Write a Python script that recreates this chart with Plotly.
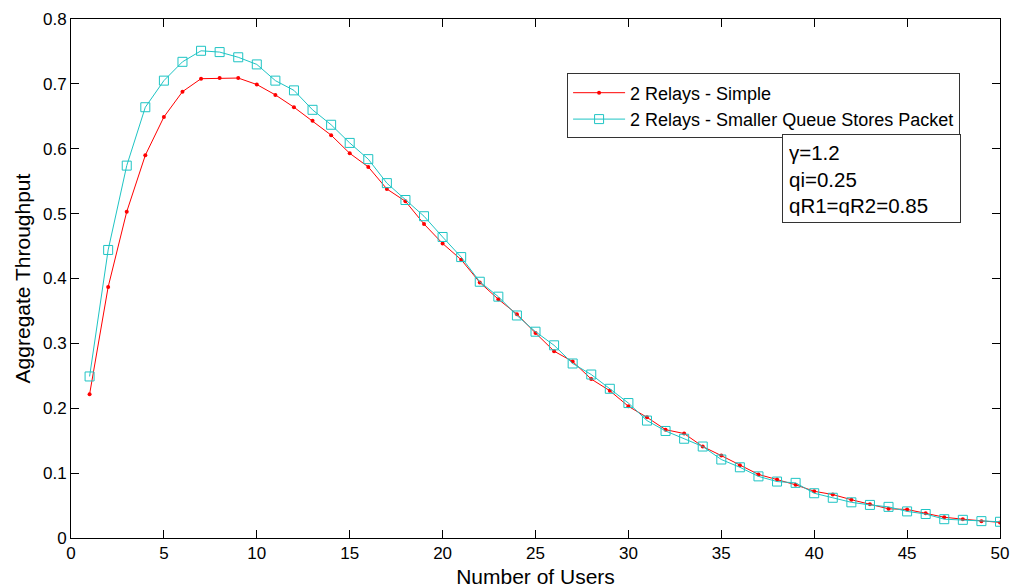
import plotly.graph_objects as go

users = list(range(1, 51))

simple = [0.2215, 0.387, 0.503, 0.590, 0.649, 0.688, 0.708, 0.709, 0.709, 0.699,
          0.683, 0.664, 0.643, 0.621, 0.593, 0.572, 0.538, 0.519, 0.484, 0.454,
          0.429, 0.394, 0.368, 0.345, 0.316, 0.288, 0.272, 0.245, 0.227, 0.203,
          0.186, 0.167, 0.161, 0.141, 0.127, 0.112, 0.098, 0.090, 0.082, 0.072,
          0.067, 0.059, 0.052, 0.045, 0.044, 0.038, 0.032, 0.029, 0.026, 0.024]

smaller_queue = [0.249, 0.444, 0.574, 0.664, 0.705, 0.734, 0.751, 0.749, 0.741, 0.730,
                 0.705, 0.690, 0.660, 0.637, 0.609, 0.584, 0.547, 0.521, 0.496, 0.464,
                 0.433, 0.395, 0.372, 0.343, 0.318, 0.297, 0.269, 0.252, 0.230, 0.208,
                 0.181, 0.165, 0.153, 0.141, 0.121, 0.109, 0.095, 0.087, 0.085, 0.069,
                 0.062, 0.055, 0.051, 0.048, 0.041, 0.037, 0.029, 0.028, 0.026, 0.025]

series_names = ["2 Relays - Simple", "2 Relays - Smaller Queue Stores Packet"]
param_lines = ["γ=1.2", "qi=0.25", "qR1=qR2=0.85"]

FONT = "Liberation Sans, Arial, sans-serif"
RED = "#ff0000"
CYAN = "#1ec4c4"

fig = go.Figure()
fig.add_trace(go.Scatter(
    x=users, y=simple, name=series_names[0], mode="lines+markers",
    line=dict(color=RED, width=1),
    marker=dict(symbol="circle", size=4, color=RED),
))
fig.add_trace(go.Scatter(
    x=users, y=smaller_queue, name=series_names[1], mode="lines+markers",
    line=dict(color=CYAN, width=1),
    marker=dict(symbol="square-open", size=9, color=CYAN, line=dict(width=1, color=CYAN)),
))

axis_common = dict(
    showline=True, linecolor="black", linewidth=1, mirror="ticks",
    ticks="inside", ticklen=8, tickcolor="black", tickwidth=1,
    showgrid=False, zeroline=False, automargin=False,
    tickfont=dict(family=FONT, size=17, color="black"),
)

fig.update_layout(
    width=1015, height=588,
    margin=dict(l=71, r=15, t=19, b=50),
    paper_bgcolor="white", plot_bgcolor="white",
    font=dict(family=FONT, color="black"),
    xaxis=dict(range=[0, 50], dtick=5, tick0=0,
               title=dict(text="Number of Users", font=dict(family=FONT, size=21), standoff=6),
               **axis_common),
    yaxis=dict(range=[0, 0.8], dtick=0.1, tick0=0,
               title=dict(text="Aggregate Throughput", font=dict(family=FONT, size=21), standoff=6),
               **axis_common),
    legend=dict(
        x=0.534, y=0.895, xanchor="left", yanchor="top",
        bgcolor="white", bordercolor="#333333", borderwidth=1,
        font=dict(family=FONT, size=18, color="black"),
        tracegroupgap=0, itemwidth=52,
    ),
    showlegend=True,
)

fig.add_annotation(
    xref="paper", yref="paper", x=0.7653, y=0.779,
    xanchor="left", yanchor="top",
    text="<br>".join(param_lines),
    showarrow=False, align="left", valign="top",
    font=dict(family=FONT, size=20.5, color="black"),
    bordercolor="#333333", borderwidth=1, borderpad=6,
    bgcolor="white", width=165, height=75,
)

fig.write_html("out.html")
